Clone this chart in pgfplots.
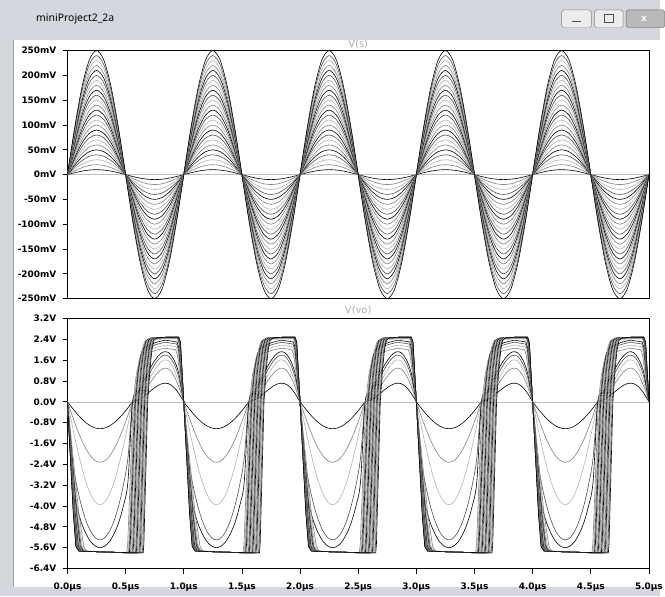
\documentclass[border=0pt]{standalone}
\usepackage{fontspec}
\setmainfont{DejaVu Sans}
\newfontfamily\titlefont{Noto Sans}
\usepackage{pgfplots}
\usepackage{pgfplotstable}
\pgfplotsset{compat=1.18}

\definecolor{winbg}{RGB}{212,216,222}
\definecolor{framegray}{RGB}{160,160,160}
\definecolor{titlegray}{RGB}{175,175,175}
\definecolor{zerogray}{RGB}{190,190,190}
\tikzset{
  tr0/.style={color={rgb,255:red,80;green,80;blue,80}, line width=0.6pt},
  tr1/.style={color=black, line width=0.6pt},
  tr2/.style={color={rgb,255:red,130;green,130;blue,130}, line width=0.6pt},
  tr3/.style={color={rgb,255:red,180;green,180;blue,180}, line width=0.6pt},
}

% V(s): one period of the stepped source, amplitudes 10 mV ... 250 mV (values in mV)
\pgfplotstableread{
t a1 a2 a3 a4 a5 a6 a7 a8 a9 a10 a11 a12 a13 a14 a15 a16 a17 a18 a19 a20 a21 a22 a23 a24 a25
0 0 0 0 0 0 0 0 0 0 0 0 0 0 0 0 0 0 0 0 0 0 0 0 0 0
0.0625 3.8 7.7 11.5 15.3 19.1 23.0 26.8 30.6 34.4 38.3 42.1 45.9 49.8 53.6 57.4 61.2 65.1 68.9 72.7 76.5 80.4 84.2 88.0 91.8 95.7
0.125 7.1 14.1 21.2 28.3 35.4 42.4 49.5 56.6 63.6 70.7 77.8 84.9 91.9 99.0 106.1 113.1 120.2 127.3 134.3 141.4 148.5 155.6 162.6 169.7 176.8
0.1875 9.2 18.5 27.7 37.0 46.2 55.4 64.7 73.9 83.2 92.4 101.6 110.9 120.1 129.3 138.6 147.8 157.1 166.3 175.5 184.8 194.0 203.3 212.5 221.7 231.0
0.25 10 20 30 40 50 60 70 80 90 100 110 120 130 140 150 160 170 180 190 200 210 220 230 240 250
0.3125 9.2 18.5 27.7 37.0 46.2 55.4 64.7 73.9 83.2 92.4 101.6 110.9 120.1 129.3 138.6 147.8 157.1 166.3 175.5 184.8 194.0 203.3 212.5 221.7 231.0
0.375 7.1 14.1 21.2 28.3 35.4 42.4 49.5 56.6 63.6 70.7 77.8 84.9 91.9 99.0 106.1 113.1 120.2 127.3 134.3 141.4 148.5 155.6 162.6 169.7 176.8
0.4375 3.8 7.7 11.5 15.3 19.1 23.0 26.8 30.6 34.4 38.3 42.1 45.9 49.8 53.6 57.4 61.2 65.1 68.9 72.7 76.5 80.4 84.2 88.0 91.8 95.7
0.5 0 0 0 0 0 0 0 0 0 0 0 0 0 0 0 0 0 0 0 0 0 0 0 0 0
0.5625 -3.8 -7.7 -11.5 -15.3 -19.1 -23.0 -26.8 -30.6 -34.4 -38.3 -42.1 -45.9 -49.8 -53.6 -57.4 -61.2 -65.1 -68.9 -72.7 -76.5 -80.4 -84.2 -88.0 -91.8 -95.7
0.625 -7.1 -14.1 -21.2 -28.3 -35.4 -42.4 -49.5 -56.6 -63.6 -70.7 -77.8 -84.9 -91.9 -99.0 -106.1 -113.1 -120.2 -127.3 -134.3 -141.4 -148.5 -155.6 -162.6 -169.7 -176.8
0.6875 -9.2 -18.5 -27.7 -37.0 -46.2 -55.4 -64.7 -73.9 -83.2 -92.4 -101.6 -110.9 -120.1 -129.3 -138.6 -147.8 -157.1 -166.3 -175.5 -184.8 -194.0 -203.3 -212.5 -221.7 -231.0
0.75 -10 -20 -30 -40 -50 -60 -70 -80 -90 -100 -110 -120 -130 -140 -150 -160 -170 -180 -190 -200 -210 -220 -230 -240 -250
0.8125 -9.2 -18.5 -27.7 -37.0 -46.2 -55.4 -64.7 -73.9 -83.2 -92.4 -101.6 -110.9 -120.1 -129.3 -138.6 -147.8 -157.1 -166.3 -175.5 -184.8 -194.0 -203.3 -212.5 -221.7 -231.0
0.875 -7.1 -14.1 -21.2 -28.3 -35.4 -42.4 -49.5 -56.6 -63.6 -70.7 -77.8 -84.9 -91.9 -99.0 -106.1 -113.1 -120.2 -127.3 -134.3 -141.4 -148.5 -155.6 -162.6 -169.7 -176.8
0.9375 -3.8 -7.7 -11.5 -15.3 -19.1 -23.0 -26.8 -30.6 -34.4 -38.3 -42.1 -45.9 -49.8 -53.6 -57.4 -61.2 -65.1 -68.9 -72.7 -76.5 -80.4 -84.2 -88.0 -91.8 -95.7
1 0 0 0 0 0 0 0 0 0 0 0 0 0 0 0 0 0 0 0 0 0 0 0 0 0
}\vsunit

% V(vo): one period per step, starting at the falling zero crossing (volts)
\pgfplotstableread{
t v
0 0
0.04 -0.229
0.08 -0.447
0.12 -0.642
0.16 -0.805
0.20 -0.928
0.24 -1.004
0.28 -1.030
0.32 -1.004
0.36 -0.928
0.40 -0.805
0.44 -0.642
0.48 -0.447
0.52 -0.229
0.56 0
0.604 0.063
0.648 0.184
0.692 0.335
0.736 0.494
0.780 0.632
0.824 0.712
0.868 0.700
0.912 0.573
0.956 0.329
1 0
}\voA
\pgfplotstableread{
t v
0 0
0.04 -0.516
0.08 -1.007
0.12 -1.447
0.16 -1.814
0.20 -2.090
0.24 -2.262
0.28 -2.320
0.32 -2.262
0.36 -2.090
0.40 -1.814
0.44 -1.447
0.48 -1.007
0.52 -0.516
0.56 0
0.604 0.114
0.648 0.332
0.692 0.606
0.736 0.893
0.780 1.141
0.824 1.285
0.868 1.265
0.912 1.034
0.956 0.594
1 0
}\voB
\pgfplotstableread{
t v
0 0
0.04 -0.879
0.08 -1.714
0.12 -2.463
0.16 -3.088
0.20 -3.559
0.24 -3.851
0.28 -3.950
0.32 -3.851
0.36 -3.559
0.40 -3.088
0.44 -2.463
0.48 -1.714
0.52 -0.879
0.56 0
0.604 0.142
0.648 0.414
0.692 0.755
0.736 1.113
0.780 1.421
0.824 1.602
0.868 1.576
0.912 1.288
0.956 0.740
1 0
}\voC
\pgfplotstableread{
t v
0 0
0.04 -2.15
0.08 -3.21
0.12 -3.99
0.16 -4.57
0.20 -4.98
0.24 -5.22
0.28 -5.30
0.32 -5.22
0.36 -4.98
0.40 -4.57
0.44 -3.99
0.48 -3.21
0.52 -2.15
0.56 0
0.604 0.257
0.648 0.603
0.692 0.977
0.736 1.332
0.780 1.622
0.824 1.784
0.868 1.760
0.912 1.498
0.956 0.963
1 0
}\voD
\pgfplotstableread{
t v
0 0
0.04 -3.07
0.08 -4.01
0.12 -4.64
0.16 -5.07
0.20 -5.37
0.24 -5.54
0.28 -5.60
0.32 -5.54
0.36 -5.37
0.40 -5.07
0.44 -4.64
0.48 -4.01
0.52 -3.07
0.56 0
0.604 0.351
0.648 0.743
0.692 1.131
0.736 1.484
0.780 1.760
0.824 1.915
0.868 1.893
0.912 1.644
0.956 1.116
1 0
}\voE
\pgfplotstableread{
t v
0 0
0.098 -4.30
0.140 -5.55
0.165 -5.73
0.35 -5.77
0.510 -5.80
0.518 -5.45
0.565 0
0.591 1.03
0.618 1.61
0.640 1.81
0.76 1.98
0.84 2.06
0.930 2.00
0.945 1.81
1 0
}\voF
\pgfplotstableread{
t v
0 0
0.089 -4.30
0.127 -5.55
0.152 -5.73
0.35 -5.77
0.517 -5.80
0.526 -5.45
0.572 0
0.597 1.09
0.623 1.70
0.645 1.92
0.76 2.09
0.84 2.18
0.935 2.12
0.950 1.92
1 0
}\voG
\pgfplotstableread{
t v
0 0
0.082 -4.30
0.118 -5.55
0.143 -5.73
0.35 -5.77
0.525 -5.80
0.533 -5.45
0.578 0
0.604 1.15
0.629 1.79
0.651 2.02
0.76 2.20
0.84 2.29
0.939 2.22
0.954 2.02
1 0
}\voH
\pgfplotstableread{
t v
0 0
0.077 -4.30
0.110 -5.55
0.135 -5.73
0.35 -5.77
0.532 -5.80
0.540 -5.45
0.585 0
0.610 1.19
0.635 1.85
0.656 2.09
0.76 2.28
0.84 2.37
0.942 2.30
0.957 2.09
1 0
}\voI
\pgfplotstableread{
t v
0 0
0.073 -4.30
0.104 -5.55
0.129 -5.73
0.35 -5.77
0.540 -5.80
0.547 -5.45
0.591 0
0.616 1.21
0.641 1.98
0.662 2.30
0.697 2.40
0.85 2.42
0.944 2.42
0.959 2.23
1 0
}\voJ
\pgfplotstableread{
t v
0 0
0.069 -4.30
0.099 -5.55
0.124 -5.73
0.35 -5.77
0.547 -5.80
0.555 -5.45
0.598 0
0.622 1.23
0.646 2.01
0.667 2.33
0.702 2.43
0.85 2.45
0.946 2.45
0.961 2.25
1 0
}\voK
\pgfplotstableread{
t v
0 0
0.067 -4.30
0.095 -5.55
0.120 -5.73
0.35 -5.77
0.554 -5.80
0.562 -5.45
0.605 0
0.628 1.23
0.652 2.02
0.672 2.34
0.706 2.44
0.85 2.46
0.948 2.46
0.963 2.26
1 0
}\voL
\pgfplotstableread{
t v
0 0
0.064 -4.30
0.092 -5.55
0.117 -5.73
0.35 -5.77
0.562 -5.80
0.569 -5.45
0.611 0
0.635 1.23
0.658 2.02
0.678 2.34
0.711 2.44
0.85 2.46
0.949 2.46
0.964 2.26
1 0
}\voM
\pgfplotstableread{
t v
0 0
0.062 -4.30
0.089 -5.55
0.114 -5.73
0.35 -5.77
0.569 -5.80
0.577 -5.45
0.618 0
0.641 1.24
0.664 2.03
0.683 2.35
0.716 2.45
0.85 2.47
0.950 2.47
0.965 2.27
1 0
}\voN
\pgfplotstableread{
t v
0 0
0.060 -4.30
0.086 -5.55
0.111 -5.73
0.35 -5.77
0.577 -5.80
0.584 -5.45
0.624 0
0.647 1.24
0.669 2.03
0.689 2.35
0.721 2.45
0.85 2.47
0.951 2.47
0.966 2.27
1 0
}\voO
\pgfplotstableread{
t v
0 0
0.059 -4.30
0.084 -5.55
0.109 -5.73
0.35 -5.77
0.584 -5.80
0.591 -5.45
0.631 0
0.653 1.24
0.675 2.03
0.694 2.35
0.726 2.45
0.85 2.47
0.952 2.47
0.967 2.27
1 0
}\voP
\pgfplotstableread{
t v
0 0
0.057 -4.30
0.082 -5.55
0.107 -5.73
0.35 -5.77
0.591 -5.80
0.598 -5.45
0.638 0
0.659 1.24
0.681 2.03
0.699 2.36
0.730 2.46
0.85 2.48
0.953 2.48
0.968 2.28
1 0
}\voQ
\pgfplotstableread{
t v
0 0
0.056 -4.30
0.080 -5.55
0.105 -5.73
0.35 -5.77
0.599 -5.80
0.606 -5.45
0.644 0
0.665 1.24
0.687 2.03
0.705 2.36
0.735 2.46
0.85 2.48
0.953 2.48
0.968 2.28
1 0
}\voR
\pgfplotstableread{
t v
0 0
0.055 -4.30
0.078 -5.55
0.103 -5.73
0.35 -5.77
0.606 -5.80
0.613 -5.45
0.651 0
0.672 1.24
0.692 2.03
0.710 2.36
0.740 2.46
0.85 2.48
0.954 2.48
0.969 2.28
1 0
}\voS
\pgfplotstableread{
t v
0 0
0.054 -4.30
0.077 -5.55
0.102 -5.73
0.35 -5.77
0.614 -5.80
0.620 -5.45
0.657 0
0.678 1.24
0.698 2.03
0.716 2.36
0.745 2.46
0.85 2.48
0.955 2.48
0.970 2.28
1 0
}\voT
\pgfplotstableread{
t v
0 0
0.053 -4.30
0.076 -5.55
0.101 -5.73
0.35 -5.77
0.621 -5.80
0.628 -5.45
0.664 0
0.684 1.24
0.704 2.03
0.721 2.36
0.750 2.46
0.85 2.48
0.955 2.48
0.970 2.28
1 0
}\voU
\pgfplotstableread{
t v
0 0
0.052 -4.30
0.075 -5.55
0.100 -5.73
0.35 -5.77
0.628 -5.80
0.635 -5.45
0.671 0
0.690 1.24
0.710 2.03
0.726 2.36
0.754 2.46
0.85 2.48
0.956 2.48
0.971 2.28
1 0
}\voV
\pgfplotstableread{
t v
0 0
0.052 -4.30
0.074 -5.55
0.099 -5.73
0.35 -5.77
0.636 -5.80
0.642 -5.45
0.677 0
0.696 1.24
0.715 2.03
0.732 2.36
0.759 2.46
0.85 2.48
0.956 2.48
0.971 2.28
1 0
}\voW
\pgfplotstableread{
t v
0 0
0.051 -4.30
0.073 -5.55
0.098 -5.73
0.35 -5.77
0.643 -5.80
0.649 -5.45
0.684 0
0.703 1.24
0.721 2.03
0.737 2.36
0.764 2.46
0.85 2.48
0.956 2.48
0.971 2.28
1 0
}\voX
\pgfplotstableread{
t v
0 0
0.050 -4.30
0.072 -5.55
0.097 -5.73
0.35 -5.77
0.651 -5.80
0.657 -5.45
0.690 0
0.709 1.24
0.727 2.03
0.743 2.36
0.769 2.46
0.85 2.48
0.957 2.48
0.972 2.28
1 0
}\voY

\newcommand\lbl{\fontsize{9}{11}\selectfont\bfseries}
\pgfplotsset{
  ltsp/.style={
    scale only axis, width=586pt, anchor=north west,
    xmin=0, xmax=5,
    axis line style={line width=0.8pt},
    tick align=outside, major tick length=5pt,
    tick style={black, line width=0.8pt},
    xtick pos=bottom, ytick pos=left,
    yticklabel style={font=\lbl, anchor=east, inner sep=0pt, xshift=-6pt},
    xticklabel style={font=\lbl, anchor=north, inner sep=0pt, yshift=-9pt},
  }
}

\begin{document}
\begin{tikzpicture}[x=1pt,y=1pt]
% window chrome
\fill[winbg] (0,0) rectangle (665,-601);
\fill[white] (14,-40) rectangle (665,-592);
\draw[framegray, line width=1pt] (13.5,-40) -- (13.5,-592);
\node[anchor=west, font=\titlefont\fontsize{10.5}{12}\selectfont] at (33,-19) {miniProject2\_2a};
\draw[gray, fill=white!85!gray, rounded corners=2pt] (566,-10) rectangle (596,-28);
\draw[gray, fill=white!85!gray, rounded corners=2pt] (599,-10) rectangle (628,-28);
\draw[gray!80!black, fill=gray!55, rounded corners=2pt] (631,-10) rectangle (670,-28);
\draw[black!70, line width=1.2pt] (576,-22) -- (586,-22);
\draw[black!70, line width=0.8pt] (609,-15) rectangle (618,-23);
\node[font=\fontsize{9}{11}\selectfont\bfseries, text=white] at (649,-19) {x};

\node[text=titlegray, font=\fontsize{10}{12}\selectfont] at (361,-45) {V(s)};
\node[text=titlegray, font=\fontsize{10}{12}\selectfont] at (361,-313) {V(vo)};

\begin{axis}[ltsp, at={(68pt,-51pt)}, height=250pt,
  ymin=-250, ymax=250, xtick=\empty,
  ytick={-250,-200,-150,-100,-50,0,50,100,150,200,250},
  yticklabels={-250mV,-200mV,-150mV,-100mV,-50mV,0mV,50mV,100mV,150mV,200mV,250mV}]
\addplot[zerogray, line width=0.6pt] coordinates {(0,0) (5,0)};
\foreach \k in {0,...,4}{
  \foreach \c in {1,...,25}{
    \pgfmathtruncatemacro\cc{mod(\c,4)}
    \edef\tmp{\noexpand\addplot[tr\cc,smooth] table[x expr=\noexpand\thisrow{t}+\k,y=a\c]{\noexpand\vsunit};}
    \tmp
  }
}
\end{axis}

\begin{axis}[ltsp, at={(68pt,-321pt)}, height=252pt,
  ymin=-6.4, ymax=3.2,
  ytick={-6.4,-5.6,-4.8,-4.0,-3.2,-2.4,-1.6,-0.8,0,0.8,1.6,2.4,3.2},
  yticklabels={-6.4V,-5.6V,-4.8V,-4.0V,-3.2V,-2.4V,-1.6V,-0.8V,0.0V,0.8V,1.6V,2.4V,3.2V},
  xtick={0,0.5,1,1.5,2,2.5,3,3.5,4,4.5,5},
  xticklabels={0.0µs,0.5µs,1.0µs,1.5µs,2.0µs,2.5µs,3.0µs,3.5µs,4.0µs,4.5µs,5.0µs}]
\addplot[zerogray, line width=0.6pt] coordinates {(0,0) (5,0)};
\foreach \k in {0,...,4}{
  \foreach \n/\cc/\sm in {A/1/smooth,B/2/smooth,C/3/smooth,D/0/smooth,E/1/smooth,
      F/2/sharp plot,G/3/sharp plot,H/0/sharp plot,I/1/sharp plot,J/2/sharp plot,
      K/3/sharp plot,L/0/sharp plot,M/1/sharp plot,N/2/sharp plot,O/3/sharp plot,
      P/0/sharp plot,Q/1/sharp plot,R/2/sharp plot,S/3/sharp plot,T/0/sharp plot,
      U/1/sharp plot,V/2/sharp plot,W/3/sharp plot,X/0/sharp plot,Y/1/sharp plot}{
    \edef\tmp{\noexpand\addplot[tr\cc,\sm] table[x expr=\noexpand\thisrow{t}+\k,y=v]{\expandafter\noexpand\csname vo\n\endcsname};}
    \tmp
  }
}
\end{axis}
\end{tikzpicture}
\end{document}
